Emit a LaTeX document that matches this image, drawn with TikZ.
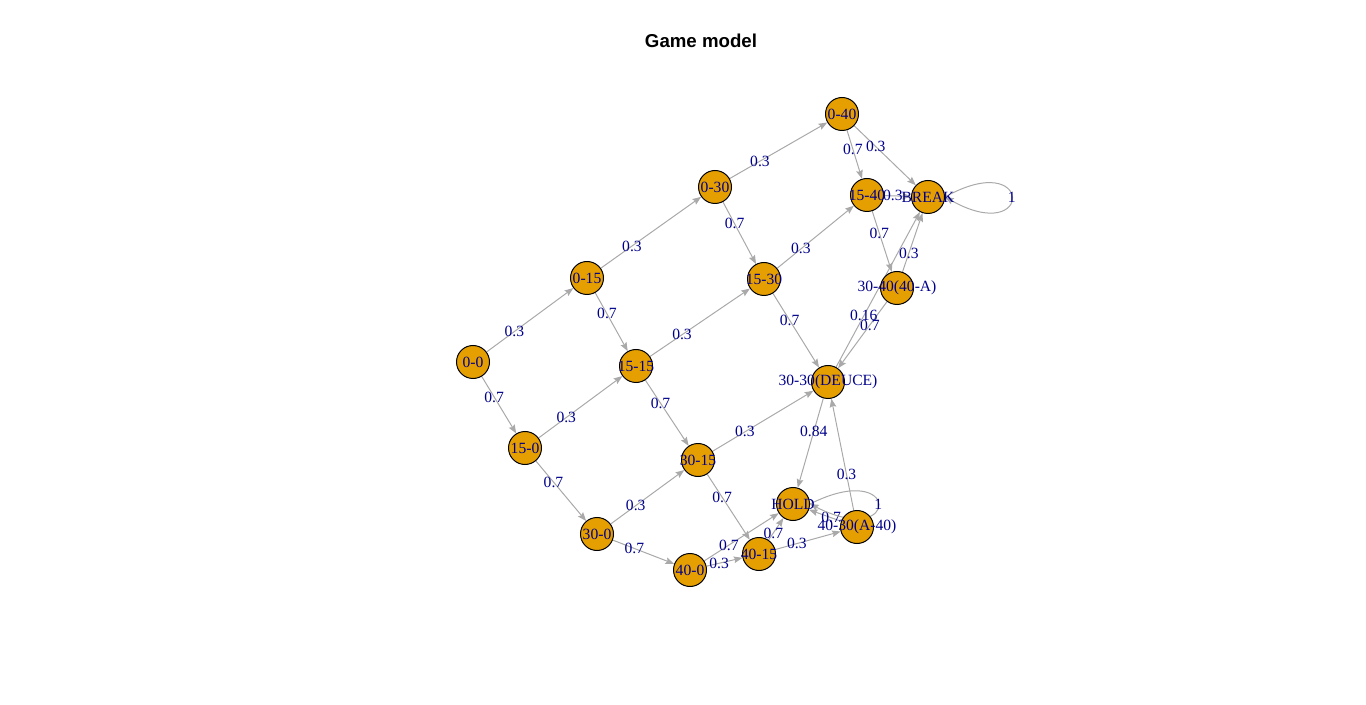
\documentclass[tikz,border=0pt]{standalone}
\usepackage{fontspec}
\setmainfont{Liberation Serif}
\newfontfamily\titlefont{Liberation Sans}
\usepackage{tikz}
\usetikzlibrary{arrows.meta}
\usetikzlibrary{backgrounds}

\definecolor{vfill}{HTML}{E69F00}
\definecolor{egray}{HTML}{A9A9A9}
\definecolor{lblue}{HTML}{00008B}

\begin{document}
\begin{tikzpicture}[x=0.75pt, y=-0.75pt,
    state node/.style={circle, draw=black, line width=0.75pt, fill=vfill, minimum size=24.75pt, inner sep=0pt,
      text=lblue, font=\fontsize{11.7}{14}\selectfont,
      execute at begin node={\hbox to 0pt\bgroup\hss}, execute at end node={\hss\egroup}},
    prob/.style={text=lblue, font=\fontsize{11.7}{14}\selectfont, inner sep=0pt},
    trans/.style={draw=egray, line width=0.75pt, -{Stealth[length=6.5pt, width=5pt, inset=1pt]}},
    ]
  \useasboundingbox (0,0) rectangle (1366,705);

  \node[font=\titlefont\bfseries\fontsize{14}{16}\selectfont] (title) at (701,41) {Game model};

  \node[state node] (s00)   at (473,362) {0-0};
  \node[state node] (s150)  at (525,448) {15-0};
  \node[state node] (s300)  at (597,534) {30-0};
  \node[state node] (s400)  at (690,570) {40-0};
  \node[state node] (s015)  at (587,278) {0-15};
  \node[state node] (s1515) at (636,366) {15-15};
  \node[state node] (s3015) at (698,460) {30-15};
  \node[state node] (s4015) at (759,554) {40-15};
  \node[state node] (s030)  at (715,187) {0-30};
  \node[state node] (s1530) at (764,279) {15-30};
  \node[state node] (s040)  at (842,114) {0-40};
  \node[state node] (s1540) at (867,195) {15-40};
  \node[state node] (brk)   at (928,197) {BREAK};
  \node[state node] (s3040) at (897,288) {30-40(40-A)};
  \node[state node] (deuce) at (828,382) {30-30(DEUCE)};
  \node[state node] (hold)  at (793,504) {HOLD};
  \node[state node] (s4030) at (857,527) {40-30(A-40)};

  \begin{scope}[on background layer]
  \draw[trans] (s00) -- node[prob, pos=0.32] {0.3} (s015);
  \draw[trans] (s00) -- node[prob, pos=0.36] {0.7} (s150);
  \draw[trans] (s015) -- node[prob, pos=0.31] {0.3} (s030);
  \draw[trans] (s015) -- node[prob, pos=0.36] {0.7} (s1515);
  \draw[trans] (s150) -- node[prob, pos=0.33] {0.3} (s1515);
  \draw[trans] (s150) -- node[prob, pos=0.35] {0.7} (s300);
  \draw[trans] (s030) -- node[prob, pos=0.31] {0.3} (s040);
  \draw[trans] (s030) -- node[prob, pos=0.35] {0.7} (s1530);
  \draw[trans] (s1515) -- node[prob, pos=0.32] {0.3} (s1530);
  \draw[trans] (s1515) -- node[prob, pos=0.35] {0.7} (s3015);
  \draw[trans] (s300) -- node[prob, pos=0.34] {0.3} (s3015);
  \draw[trans] (s300) -- node[prob, pos=0.35] {0.7} (s400);
  \draw[trans] (s040) -- node[prob, pos=0.39] {0.7} (s1540);
  \draw[trans] (s040) -- node[prob, pos=0.35] {0.3} (brk);
  \draw[trans] (s1530) -- node[prob, pos=0.31] {0.3} (s1540);
  \draw[trans] (s1530) -- node[prob, pos=0.36] {0.7} (deuce);
  \draw[trans] (s3015) -- node[prob, pos=0.32] {0.3} (deuce);
  \draw[trans] (s3015) -- node[prob, pos=0.35] {0.7} (s4015);
  \draw[trans] (s400) -- node[prob, pos=0.33] {0.7} (hold);
  \draw[trans] (s400) -- node[prob, pos=0.35] {0.3} (s4015);
  \draw[trans] (s1540) -- node[prob, pos=0.33] {0.3} (brk);
  \draw[trans] (s1540) -- node[prob, pos=0.36] {0.7} (s3040);
  \draw[trans] (s3040) -- node[prob, pos=0.32] {0.3} (brk);
  \draw[trans] (s3040) -- node[prob, pos=0.35] {0.7} (deuce);
  \draw[trans] (deuce) -- node[prob, pos=0.33] {0.16} (brk);
  \draw[trans] (deuce) -- node[prob, pos=0.37] {0.84} (hold);
  \draw[trans] (s4030) -- node[prob, pos=0.32] {0.3} (deuce);
  \draw[trans] (s4030) -- node[prob, pos=0.31] {0.7} (hold);
  \draw[trans] (s4015) -- node[prob, pos=0.32] {0.7} (hold);
  \draw[trans] (s4015) -- node[prob, pos=0.33] {0.3} (s4030);

  % absorbing states
  \draw[trans] (brk.east) .. controls +(89,-50) and +(89,50) .. node[prob, pos=0.5] {1} (brk.east);
  \draw[trans] (hold.east) .. controls +(91,-46) and +(91,46) .. node[prob, pos=0.5] {1} (hold.east);
  \end{scope}
\end{tikzpicture}
\end{document}
